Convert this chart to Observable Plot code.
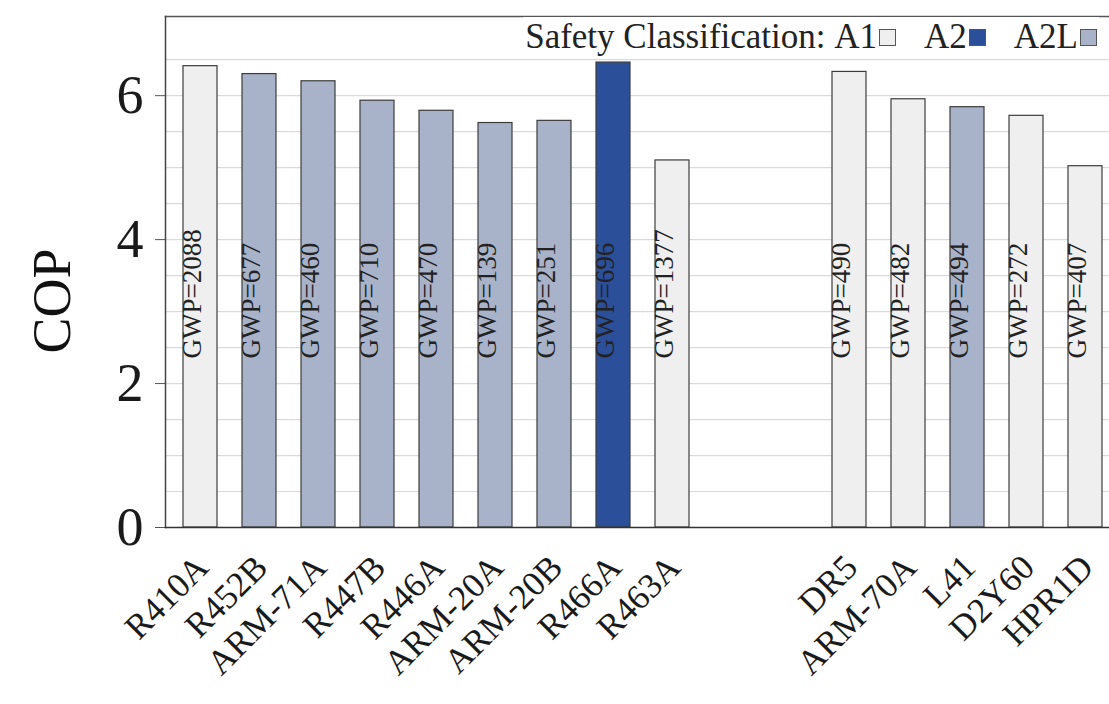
<!DOCTYPE html>
<html>
<head>
<meta charset="utf-8">
<script src="https://cdn.jsdelivr.net/npm/d3@7"></script>
<script src="https://cdn.jsdelivr.net/npm/@observablehq/plot@0.6"></script>
<style>
  body { margin: 0; background: #fff; }
  #wrap { position: relative; width: 1109px; height: 704px; font-family: "Liberation Serif", "Times New Roman", serif; }
  #legend { position: absolute; top: 17px; right: 10px; font-size: 35px; line-height: 40px; color: #222; display: flex; align-items: center; white-space: nowrap; background: #fff; padding: 0 2px; }
  #legend .sw { display: inline-block; width: 15px; height: 15px; border: 1px solid #555; margin-left: 2px; }
  #legend .item { display: inline-flex; align-items: center; }
  #legend .gap { margin-left: 28px; }
</style>
</head>
<body>
<div id="wrap"></div>
<script>
// ---- data ----
const refrigerants = ["R410A", "R452B", "ARM-71A", "R447B", "R446A", "ARM-20A", "ARM-20B", "R466A", "R463A",
                      "DR5", "ARM-70A", "L41", "D2Y60", "HPR1D"];
const cop    = [6.41, 6.30, 6.20, 5.93, 5.79, 5.62, 5.65, 6.46, 5.10, 6.33, 5.95, 5.84, 5.72, 5.02];
const gwp    = [2088, 677, 460, 710, 470, 139, 251, 696, 1377, 490, 482, 494, 272, 407];
const safety = ["A1", "A2L", "A2L", "A2L", "A2L", "A2L", "A2L", "A2", "A1", "A1", "A1", "A2L", "A1", "A1"];
const spacers = ["gap1", "gap2"];               // two empty slots between the groups
const classes = ["A1", "A2", "A2L"];
const classColors = ["#efefef", "#2b4f98", "#a8b3c9"];
const yTicks = [0, 2, 4, 6];
const gridTicks = [0.5, 1, 1.5, 2, 2.5, 3, 3.5, 4, 4.5, 5, 5.5, 6, 6.5];
const legendTitle = "Safety Classification:";

const xDomain = [...refrigerants.slice(0, 9), ...spacers, ...refrigerants.slice(9)];
const data = refrigerants.map((r, i) => ({name: r, cop: cop[i], gwp: gwp[i], cls: safety[i]}));

const serif = "'Liberation Serif', 'Times New Roman', serif";

const chart = Plot.plot({
  width: 1109,
  height: 704,
  marginTop: 16,
  marginBottom: 177,
  marginLeft: 165,
  marginRight: 0,
  style: {fontFamily: serif, background: "white", color: "#1a1a1a"},
  x: {type: "band", domain: xDomain, range: [165, 1120], paddingInner: 0.43, paddingOuter: 0.215, align: 0.5, label: null},
  y: {domain: [0, 7.1], label: null},
  color: {domain: classes, range: classColors},
  marks: [
    Plot.gridY(gridTicks, {stroke: "#dadada", strokeOpacity: 1, strokeWidth: 1.2}),
    Plot.barY(data, {x: "name", y: "cop", fill: "cls", stroke: "#3c3c3c", strokeWidth: 1.2}),
    Plot.text(data, {x: "name", frameAnchor: "bottom", dy: -169, rotate: -90, textAnchor: "start",
                     text: d => `GWP=${d.gwp}`, fontSize: 27, fill: "#222"}),
    Plot.axisY({ticks: yTicks, tickSize: 10, tickPadding: 12, fontSize: 54, label: null, stroke: "#555"}),
    Plot.axisX({tickSize: 0, tickRotate: -45, tickPadding: 34, dx: 2, fontSize: 35,
                tickFormat: d => spacers.includes(d) ? "" : d, label: null}),
    Plot.frame({anchor: "top", stroke: "#555", strokeWidth: 1.5}),
    Plot.frame({anchor: "left", stroke: "#444", strokeWidth: 1.5}),
    Plot.frame({anchor: "bottom", stroke: "#333", strokeWidth: 1.5}),
    Plot.text(["COP"], {frameAnchor: "left", dx: -113, dy: 29, rotate: -90, textAnchor: "middle", fontSize: 54, fill: "#111"})
  ]
});

const wrap = document.getElementById("wrap");
wrap.appendChild(chart);

// legend overlaid at the top of the plot frame
const legend = document.createElement("div");
legend.id = "legend";
const title = document.createElement("span");
title.textContent = legendTitle + "\u00a0";
legend.appendChild(title);
classes.forEach((c, i) => {
  const item = document.createElement("span");
  item.className = "item" + (i > 0 ? " gap" : "");
  const lab = document.createElement("span");
  lab.textContent = c;
  const sw = document.createElement("span");
  sw.className = "sw";
  sw.style.background = classColors[i];
  item.appendChild(lab);
  item.appendChild(sw);
  legend.appendChild(item);
});
wrap.appendChild(legend);
</script>
</body>
</html>
